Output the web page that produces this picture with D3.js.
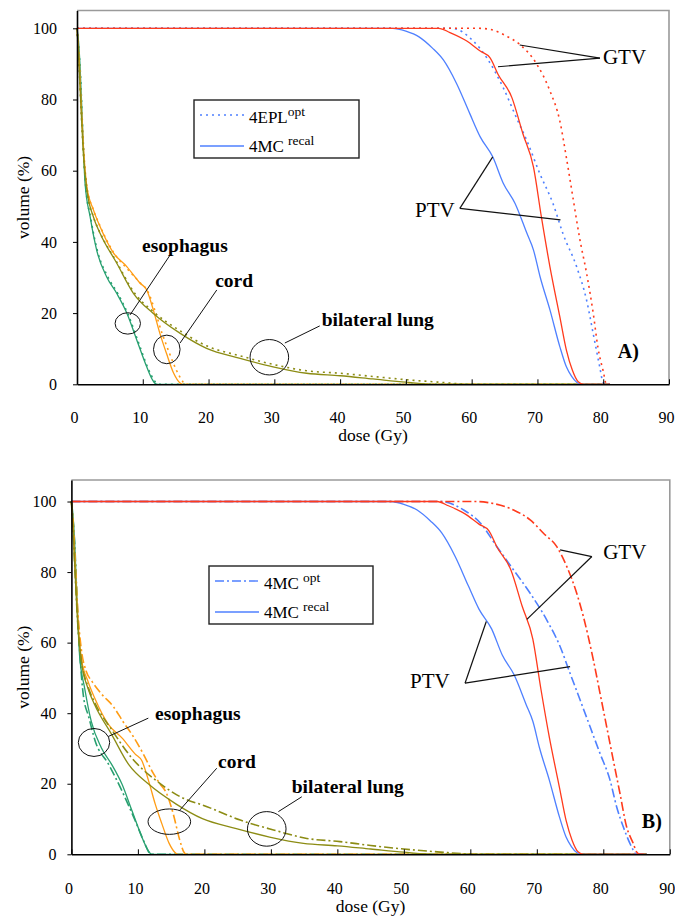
<!DOCTYPE html>
<html>
<head>
<meta charset="utf-8">
<script src="https://cdn.jsdelivr.net/npm/d3@7"></script>
<style>
  body { margin: 0; background: #fff; }
  svg text { font-family: "Liberation Serif", "Times New Roman", serif; fill: #000; }
</style>
</head>
<body>
<div id="chart"></div>
<script>
// ---- datos (dosis en Gy, volumen en %) ----
var xTicks = [0, 10, 20, 30, 40, 50, 60, 70, 80, 90];
var yTicks = [0, 20, 40, 60, 80, 100];

// 4MC recal (igual en los dos paneles)
var ptvRecalDose = [0, 48, 50, 52, 54, 55.7, 57.7, 59.7, 61.3, 63.2, 64.8, 66.6, 68.4, 69.4, 70.4, 71.9, 73.4, 74.4, 75.2, 76.0, 76.6];
var ptvRecalVol  = [100, 100, 99.2, 97.6, 94.5, 91.1, 84.5, 76.1, 69.5, 63.9, 56.5, 50.8, 42.4, 37.7, 30.2, 20.9, 10.6, 4.9, 2.2, 0.5, 0];
var gtvRecalDose = [0, 55, 56.7, 59.2, 61.3, 62.8, 64.0, 66.1, 67.8, 69.4, 70.6, 71.9, 73.4, 74.4, 75.3, 76.2, 77];
var gtvRecalVol  = [100, 100, 98.8, 96.5, 93.6, 91.7, 87.1, 80.6, 70.3, 61.0, 47.0, 33.0, 19.0, 9.6, 4, 0.7, 0];
var esoRecalDose = [0, 0.2, 0.47, 0.88, 1.23, 2.0, 3.0, 4.5, 6.05, 7.6, 9.1, 10.6, 11.4, 11.9, 12.3];
var esoRecalVol  = [100, 97, 89.2, 70.5, 56.4, 47.0, 37.6, 30.2, 25.5, 19.9, 12.4, 4.9, 1.5, 0.2, 0];
var cordRecalDose = [0, 0.3, 0.6, 1.0, 1.5, 2.5, 3.5, 5.5, 7.6, 9.6, 10.6, 11.6, 12.6, 13.6, 14.7, 15.7, 16.0];
var cordRecalVol  = [100, 92, 80, 66, 55.5, 49, 44.3, 37.0, 33.0, 28.4, 26.5, 20.9, 14.3, 8.7, 3.1, 0.3, 0];
var lungRecalDose = [0, 0.3, 0.6, 1.0, 1.5, 2.5, 3.5, 6.05, 8.6, 11.6, 15.7, 19.7, 24.8, 29.8, 34.9, 40, 45, 50, 55];
var lungRecalVol  = [100, 90, 78, 64, 54.6, 47, 42.4, 34.0, 25.5, 19.9, 14.3, 10.1, 7.3, 4.9, 3.1, 2.4, 1.5, 0.6, 0];

// A) 4EPL opt
var ptvOptADose = [0, 57, 60.2, 62.3, 64.8, 66.8, 68.4, 70.4, 72.4, 73.9, 76.0, 77.5, 78.5, 79.5, 79.9, 80.3];
var ptvOptAVol  = [100, 100, 96.5, 91.7, 83.3, 74.9, 68.4, 59.0, 50.6, 42.2, 32.8, 23.4, 14.0, 4.6, 0.9, 0];
var gtvOptADose = [0, 61, 62.8, 65.3, 67.3, 69.9, 71.9, 73.4, 74.4, 75.4, 76.4, 77.5, 78.5, 79.2, 80.0, 80.5];
var gtvOptAVol  = [100, 100, 99.7, 97.8, 95.5, 89.9, 82.4, 74.0, 63.7, 52.4, 41.2, 30.9, 19.7, 10.3, 3.7, 0];
var esoOptADose = [0, 0.2, 0.5, 0.9, 1.3, 2.1, 3.1, 4.6, 6.2, 7.8, 9.3, 10.8, 11.6, 12.1, 12.5];
var esoOptAVol  = [100, 96, 88, 70, 56, 46.5, 37.5, 30.5, 25.5, 19.5, 12, 4.5, 1.5, 0.3, 0];
var cordOptADose = [0, 0.3, 0.6, 1.0, 1.5, 2.5, 3.5, 5.5, 7.6, 9.6, 10.8, 11.8, 12.9, 14.0, 15.1, 16.0, 16.4];
var cordOptAVol  = [100, 92, 80, 66, 55.5, 49, 44.5, 37.2, 32.5, 28.5, 26, 21, 14.5, 9, 4, 1, 0];
var lungOptADose = [0, 0.3, 0.6, 1.0, 1.5, 2.5, 3.5, 6.05, 8.6, 11.6, 15.7, 19.7, 24.8, 29.8, 34.9, 40, 45, 50, 55, 60];
var lungOptAVol  = [100, 90, 78, 64, 54.6, 47, 42.6, 34.3, 26, 20.4, 15, 10.8, 8.0, 5.6, 3.8, 3.1, 2.2, 1.3, 0.6, 0];

// B) 4MC opt
var ptvOptBDose = [0, 55.5, 59.0, 61.5, 64.0, 66.5, 69.0, 71.5, 73.5, 75.0, 76.5, 78.0, 79.5, 81.0, 82.0, 83.0, 84.0, 84.5, 85.0];
var ptvOptBVol  = [100, 100, 97.6, 93.9, 87.2, 80.6, 74.0, 66.4, 58.9, 51.3, 43.8, 36.2, 28.6, 21.1, 13.5, 7.8, 3.1, 1.2, 0];
var gtvOptBDose = [0, 61, 63, 66.5, 69.0, 71.0, 73.0, 74.5, 76.0, 77.0, 78.5, 79.5, 80.5, 81.5, 82.5, 83.5, 84.5, 85.0, 85.5];
var gtvOptBVol  = [100, 100, 99.6, 97.6, 94.8, 91.0, 87.2, 81.6, 74.0, 67.4, 55.1, 45.7, 36.2, 26.7, 17.3, 7.8, 3.1, 0.7, 0];
var esoOptBDose = [0, 0.2, 0.5, 0.9, 1.3, 1.8, 2.6, 3.6, 5.6, 7.6, 9.6, 11.1, 11.7, 12.2];
var esoOptBVol  = [100, 96, 88, 70, 56, 45, 39, 32, 25.5, 18, 9.5, 2.8, 0.5, 0];
var cordOptBDose = [0, 0.3, 0.6, 1.0, 1.5, 2.2, 3.1, 4.5, 6.3, 7.8, 9.3, 10.8, 12.3, 13.3, 14.3, 15.3, 16.3, 16.9, 17.3];
var cordOptBVol  = [100, 93, 82, 68, 58, 52, 49, 45.5, 41.9, 37.5, 33.4, 28.5, 23.0, 20.0, 17.3, 11.6, 4.0, 0.7, 0];
var lungOptBDose = [0, 0.3, 0.6, 1.0, 1.5, 2.5, 3.5, 6.0, 9.0, 13.3, 16.3, 20.4, 25.4, 30.4, 35.4, 40.4, 45, 50, 55, 61.5];
var lungOptBVol  = [100, 90, 78, 64, 55, 47.5, 43, 35.5, 27.5, 20.1, 16.4, 13.5, 9.7, 6.9, 4.5, 3.6, 2.5, 1.5, 0.7, 0];

// ---- estilos ----
var colors = { ptv: "#4f80ff", gtv: "#ff3a1c", eso: "#28a070", cord: "#ff9c14", lung: "#8c8c14" };
var serif = '"Liberation Serif", "Times New Roman", serif';
var drawOrder = ["eso", "cord", "lung", "ptv", "gtv"];

function serie(key, dose, vol) { return { key: key, dose: dose, vol: vol }; }

var recal = [
  serie("eso", esoRecalDose, esoRecalVol),
  serie("cord", cordRecalDose, cordRecalVol),
  serie("lung", lungRecalDose, lungRecalVol),
  serie("ptv", ptvRecalDose, ptvRecalVol),
  serie("gtv", gtvRecalDose, gtvRecalVol)
];

var panels = [
  {
    name: "A)", left: 77, right: 669, top: 10.5, bottom: 384.3, yMax: 105, doseEnd: 81,
    yPad: 16, xPad: 27, xTitleY: 441, dash: "2,4",
    opt: [
      serie("eso", esoOptADose, esoOptAVol),
      serie("cord", cordOptADose, cordOptAVol),
      serie("lung", lungOptADose, lungOptAVol),
      serie("ptv", ptvOptADose, ptvOptAVol),
      serie("gtv", gtvOptADose, gtvOptAVol)
    ],
    legend: { x: 194, y: 100, w: 165, h: 58, opt: ["4EPL", "opt", 0] },
    label: [82.2, 7.4],
    notes: [
      { text: "esophagus", at: [9.9, 37.2], ell: [7.72, 17.1, 12.7, 10.7], lines: [[[8.07, 19.5], [14.15, 36.3]]] },
      { text: "cord", at: [21.0, 27.2], ell: [13.65, 9.8, 13.3, 14.3], lines: [[[15.67, 11.6], [21.25, 26.5]]] },
      { text: "bilateral lung", at: [37.2, 16.5], ell: [29.24, 7.6, 19.3, 17.7], lines: [[[31.6, 11.6], [36.9, 16.4]]] }
    ],
    targets: [
      { text: "GTV", at: [79.95, 90.0], lines: [[[79.5, 91.6], [67.3, 95.3]], [[79.5, 91.6], [64.0, 89.2]]] },
      { text: "PTV", at: [51.4, 47.1], lines: [[[58.2, 49.4], [63.2, 63.9]], [[58.2, 49.4], [73.5, 46.2]]] }
    ]
  },
  {
    name: "B)", left: 71.4, right: 669.8, top: 480, bottom: 854.3, yMax: 106.1, doseEnd: 86.5,
    yPad: 11, xPad: 28, xTitleY: 912, dash: "9,3,2,3",
    opt: [
      serie("eso", esoOptBDose, esoOptBVol),
      serie("cord", cordOptBDose, cordOptBVol),
      serie("lung", lungOptBDose, lungOptBVol),
      serie("ptv", ptvOptBDose, ptvOptBVol),
      serie("gtv", gtvOptBDose, gtvOptBVol)
    ],
    legend: { x: 209, y: 566, w: 164, h: 58, opt: ["4MC", "opt", 4] },
    label: [85.8, 7.4],
    notes: [
      { text: "esophagus", at: [12.58, 38.1], ell: [3.4, 31.7, 15.7, 14], lines: [[[5.55, 33.4], [11.57, 38.6]]] },
      { text: "cord", at: [22.06, 24.4], ell: [14.73, 9.25, 21.3, 12.7], lines: [[[16.34, 12.6], [21.86, 24.4]]] },
      { text: "bilateral lung", at: [33.14, 17.3], ell: [29.38, 7.2, 19.3, 17.3], lines: [[[31.13, 12.1], [34.65, 16.3]]] }
    ],
    targets: [
      { text: "GTV", at: [79.98, 83.7], lines: [[[78.28, 84.4], [73.5, 86.3]], [[78.28, 84.4], [68.5, 66.6]]] },
      { text: "PTV", at: [50.94, 47.2], lines: [[[59.2, 48.5], [62.4, 66.0]], [[59.2, 48.5], [75.0, 53.2]]] }
    ]
  }
];

var svg = d3.select("#chart").append("svg")
  .attr("width", 675)
  .attr("height", 918);

panels.forEach(function(p) {
  var x = d3.scaleLinear().domain([0, 90]).range([p.left, p.right]);
  var y = d3.scaleLinear().domain([0, p.yMax]).range([p.bottom, p.top]);
  var g = svg.append("g");

  // marco gris arriba y derecha
  g.append("path")
    .attr("d", "M" + p.left + "," + p.top + "H" + p.right + "V" + p.bottom)
    .attr("fill", "none").attr("stroke", "#9a9a9a").attr("stroke-width", 1.6);

  var line = d3.line()
    .x(function(d) { return x(d[0]); })
    .y(function(d) { return y(d[1]); })
    .curve(d3.curveMonotoneX);

  function draw(s, dash) {
    var pts = d3.zip(s.dose, s.vol);
    pts.push([p.doseEnd, 0]);
    g.append("path")
      .attr("d", line(pts))
      .attr("fill", "none")
      .attr("stroke", colors[s.key])
      .attr("stroke-width", dash ? 1.6 : 1.3)
      .attr("stroke-dasharray", dash);
  }
  // rojo (GTV) queda encima, como en la figura
  drawOrder.forEach(function(k, i) {
    draw(recal[i], null);
    draw(p.opt[i], p.dash);
  });

  // ejes
  var xAxis = d3.axisBottom(x).tickValues(xTicks).tickSizeInner(-5).tickSizeOuter(0).tickPadding(p.xPad);
  var gx = g.append("g").attr("transform", "translate(0," + p.bottom + ")").call(xAxis);
  var yAxis = d3.axisLeft(y).tickValues(yTicks).tickSizeInner(4).tickSizeOuter(0).tickPadding(p.yPad);
  var gy = g.append("g").attr("transform", "translate(" + p.left + ",0)").call(yAxis);
  gx.selectAll("text").attr("dx", -3);
  [gx, gy].forEach(function(a) {
    a.attr("font-family", serif);
    a.select(".domain").attr("stroke", "#000").attr("stroke-width", 1.6);
    a.selectAll(".tick line").attr("stroke", "#000");
    a.selectAll("text").style("font-family", serif).style("font-size", "16px").attr("fill", "#000");
  });

  g.append("text")
    .attr("x", (p.left + p.right) / 2).attr("y", p.xTitleY)
    .attr("text-anchor", "middle").style("font-size", "17.5px")
    .text("dose (Gy)");
  g.append("text")
    .attr("transform", "translate(29," + (p.top + p.bottom) / 2 + ") rotate(-90)")
    .attr("text-anchor", "middle").style("font-size", "17.5px")
    .text("volume (%)");

  // leyenda
  var L = p.legend;
  var lg = g.append("g");
  lg.append("rect").attr("x", L.x).attr("y", L.y).attr("width", L.w).attr("height", L.h)
    .attr("fill", "#fff").attr("stroke", "#222").attr("stroke-width", 1.4);
  [[p.dash, L.opt, 15, 23], [null, ["4MC", "recal", 4], 46, 52]].forEach(function(r) {
    lg.append("line").attr("x1", L.x + 6).attr("x2", L.x + 50)
      .attr("y1", L.y + r[2]).attr("y2", L.y + r[2])
      .attr("stroke", colors.ptv).attr("stroke-width", 1.4)
      .attr("stroke-dasharray", r[0]);
    var t = lg.append("text").attr("x", L.x + 55).attr("y", L.y + r[3]).style("font-size", "17px");
    t.append("tspan").text(r[1][0]);
    t.append("tspan").attr("dx", r[1][2]).attr("dy", -7).style("font-size", "13.5px").text(r[1][1]);
  });

  // anotaciones de organos
  p.notes.forEach(function(n) {
    g.append("ellipse")
      .attr("cx", x(n.ell[0])).attr("cy", y(n.ell[1]))
      .attr("rx", n.ell[2]).attr("ry", n.ell[3])
      .attr("fill", "none").attr("stroke", "#111").attr("stroke-width", 1);
    n.lines.forEach(function(l) {
      g.append("line")
        .attr("x1", x(l[0][0])).attr("y1", y(l[0][1]))
        .attr("x2", x(l[1][0])).attr("y2", y(l[1][1]))
        .attr("stroke", "#111").attr("stroke-width", 1);
    });
    g.append("text").attr("x", x(n.at[0])).attr("y", y(n.at[1]))
      .style("font-size", "19.5px").style("font-weight", "bold")
      .text(n.text);
  });

  p.targets.forEach(function(n) {
    n.lines.forEach(function(l) {
      g.append("line")
        .attr("x1", x(l[0][0])).attr("y1", y(l[0][1]))
        .attr("x2", x(l[1][0])).attr("y2", y(l[1][1]))
        .attr("stroke", "#111").attr("stroke-width", 1.2);
    });
    g.append("text").attr("x", x(n.at[0])).attr("y", y(n.at[1]))
      .style("font-size", "21px")
      .text(n.text);
  });

  g.append("text").attr("x", x(p.label[0])).attr("y", y(p.label[1]))
    .style("font-size", "20px").style("font-weight", "bold")
    .text(p.name);
});
</script>
</body>
</html>
